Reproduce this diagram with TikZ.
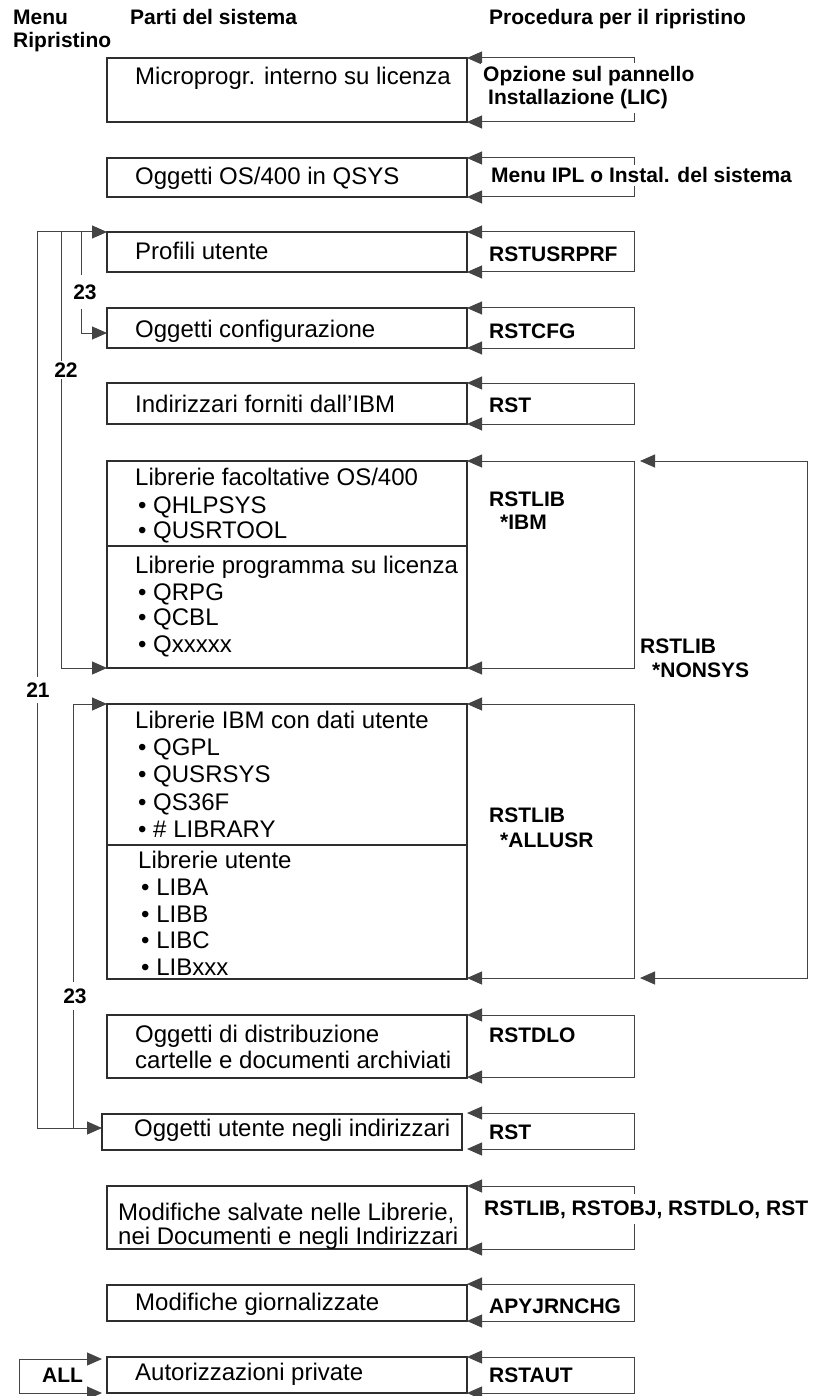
\documentclass[tikz,border=0pt]{standalone}
\usepackage{fontspec}
\setmainfont{Liberation Sans}
\usetikzlibrary{arrows.meta}
\definecolor{ink}{HTML}{2E2E2E}
\definecolor{wirec}{HTML}{444444}

% bracket of a restore procedure: arrows into the part on its left
\newcommand\procbracket[1]{%
  \draw[wire, {Triangle[length=15pt,width=13pt]}-{Triangle[length=15pt,width=13pt]}]
    (#1.north west) -- (#1.north east) -- (#1.south east) -- (#1.south west);}

\begin{document}
\begin{tikzpicture}[x=1pt,y=-1pt,
  part/.style={draw=ink, line width=1.1pt, inner sep=0pt, outer sep=0pt, anchor=north west},
  proc/.style={inner sep=0pt, outer sep=0pt, anchor=north west},
  txt/.style={anchor=base west, inner sep=0pt, font=\fontsize{24}{28}\selectfont},
  cmd/.style={anchor=base west, inner sep=0pt, font=\fontsize{21}{25}\selectfont\bfseries},
  cut/.style={fill=white, inner xsep=2pt, inner ysep=4pt},
  lbl/.style={anchor=center, fill=white, inner xsep=1pt, font=\fontsize{21}{25}\selectfont\bfseries},
  wire/.style={draw=wirec, line width=1pt},
  tip/.style={wire, -{Triangle[length=15pt,width=13pt]}},
]
\useasboundingbox (0,0) rectangle (814,1396);

% column headings
\node[cmd] (hMenu)  at (13,25)  {Menu};
\node[cmd] (hRip)   at (13,48)  {Ripristino};
\node[cmd] (hParti) at (130,25) {Parti del sistema};
\node[cmd] (hProc)  at (489,25) {Procedura per il ripristino};

% parts of the system
\node[part, minimum width=360pt, minimum height=64pt]  (b1)   at (107,58)   {};
\node[part, minimum width=360pt, minimum height=39pt]  (b2)   at (107,158)  {};
\node[part, minimum width=360pt, minimum height=40pt]  (b3)   at (107,232)  {};
\node[part, minimum width=360pt, minimum height=40pt]  (b4)   at (107,308)  {};
\node[part, minimum width=360pt, minimum height=41pt]  (b5)   at (107,383)  {};
\node[part, minimum width=360pt, minimum height=207pt] (lib1) at (107,461)  {};
\node[part, minimum width=360pt, minimum height=275pt] (lib2) at (107,704)  {};
\node[part, minimum width=360pt, minimum height=63pt]  (b8)   at (107,1015) {};
\node[part, minimum width=360pt, minimum height=36pt]  (b9)   at (102,1114) {};
\node[part, minimum width=360pt, minimum height=63pt]  (b10)  at (107,1186) {};
\node[part, minimum width=360pt, minimum height=36pt]  (b11)  at (107,1285) {};
\node[part, minimum width=360pt, minimum height=36pt]  (b12)  at (107,1357) {};

% dividers inside the library boxes
\coordinate (d1) at (0,546);
\coordinate (d2) at (0,845);
\draw[draw=ink, line width=1.1pt] (lib1.west |- d1) -- (lib1.east |- d1);
\draw[draw=ink, line width=1.1pt] (lib2.west |- d2) -- (lib2.east |- d2);

% texts of the parts
\node[txt] (t1) at (135,85)  {Microprogr. interno su licenza};
\node[txt] (t2) at (135,185) {Oggetti OS/400 in QSYS};
\node[txt] (t3) at (135,260) {Profili utente};
\node[txt] (t4) at (135,337) {Oggetti configurazione};
\node[txt] (t5) at (135,412) {Indirizzari forniti dall’IBM};

\node[txt] (l1a) at (135,485) {Librerie facoltative OS/400};
\node[txt] (l1b) at (138,513) {• QHLPSYS};
\node[txt] (l1c) at (138,538) {• QUSRTOOL};
\node[txt] (l1d) at (135,573) {Librerie programma su licenza};
\node[txt] (l1e) at (138,600) {• QRPG};
\node[txt] (l1f) at (138,625) {• QCBL};
\node[txt] (l1g) at (138,652) {• Qxxxxx};

\node[txt] (l2a) at (135,728) {Librerie IBM con dati utente};
\node[txt] (l2b) at (138,755) {• QGPL};
\node[txt] (l2c) at (138,782) {• QUSRSYS};
\node[txt] (l2d) at (138,810) {• QS36F};
\node[txt] (l2e) at (138,837) {• \# LIBRARY};
\node[txt] (l2f) at (138,868) {Librerie utente};
\node[txt] (l2g) at (141,895) {• LIBA};
\node[txt] (l2h) at (141,922) {• LIBB};
\node[txt] (l2i) at (141,948) {• LIBC};
\node[txt] (l2j) at (141,975) {• LIBxxx};

\node[txt] (t8a) at (135,1042) {Oggetti di distribuzione};
\node[txt] (t8b) at (135,1068) {cartelle e documenti archiviati};
\node[txt] (t9)  at (134,1136) {Oggetti utente negli indirizzari};
\node[txt] (t10a) at (118,1220) {Modifiche salvate nelle Librerie,};
\node[txt] (t10b) at (118,1244) {nei Documenti e negli Indirizzari};
\node[txt] (t11) at (135,1310) {Modifiche giornalizzate};
\node[txt] (t12) at (135,1380) {Autorizzazioni private};

% restore procedures (brackets on the right)
\node[proc, minimum width=167pt, minimum height=64pt]  (p1)  at (467,58)   {};
\node[proc, minimum width=167pt, minimum height=39pt]  (p2)  at (467,158)  {};
\node[proc, minimum width=167pt, minimum height=40pt]  (p3)  at (467,232)  {};
\node[proc, minimum width=167pt, minimum height=40pt]  (p4)  at (467,308)  {};
\node[proc, minimum width=167pt, minimum height=41pt]  (p5)  at (467,383)  {};
\node[proc, minimum width=167pt, minimum height=207pt] (p6)  at (467,461)  {};
\node[proc, minimum width=167pt, minimum height=274pt] (p7)  at (467,704)  {};
\node[proc, minimum width=167pt, minimum height=517pt] (pns) at (640,461)  {};
\node[proc, minimum width=167pt, minimum height=62pt]  (p8)  at (467,1015) {};
\node[proc, minimum width=167pt, minimum height=36pt]  (p9)  at (467,1113) {};
\node[proc, minimum width=167pt, minimum height=63pt]  (p10) at (467,1186) {};
\node[proc, minimum width=167pt, minimum height=37pt]  (p11) at (467,1284) {};
\node[proc, minimum width=167pt, minimum height=36pt]  (p12) at (467,1357) {};

\procbracket{p1}
\procbracket{p2}
\procbracket{p3}
\procbracket{p4}
\procbracket{p5}
\procbracket{p6}
\procbracket{p7}
\procbracket{pns}
\procbracket{p8}
\procbracket{p9}
\procbracket{p10}
\procbracket{p11}
\procbracket{p12}

% procedure names
\node[cmd, cut] (c1a) at (481,82)  {Opzione sul pannello};
\node[cmd, cut] (c1b) at (486,105) {Installazione (LIC)};
\node[cmd, cut, inner ysep=3pt] (c2) at (489,183) {Menu IPL o Instal. del sistema};
\node[cmd] (c3)  at (489,262)  {RSTUSRPRF};
\node[cmd] (c4)  at (489,338)  {RSTCFG};
\node[cmd] (c5)  at (489,412)  {RST};
\node[cmd] (c6a) at (489,506)  {RSTLIB};
\node[cmd] (c6b) at (500,529)  {*IBM};
\node[cmd] (cna) at (640,653)  {RSTLIB};
\node[cmd] (cnb) at (652,677)  {*NONSYS};
\node[cmd] (c7a) at (489,822)  {RSTLIB};
\node[cmd] (c7b) at (500,847)  {*ALLUSR};
\node[cmd] (c8)  at (489,1042) {RSTDLO};
\node[cmd] (c9)  at (489,1139) {RST};
\node[cmd, cut, inner ysep=6pt] (c10) at (482,1215) {RSTLIB, RSTOBJ, RSTDLO, RST};
\node[cmd] (c11) at (489,1313) {APYJRNCHG};
\node[cmd] (c12) at (489,1382) {RSTAUT};

% restore menu options (left side)
\coordinate (j21) at (37,232);
\coordinate (j22) at (61,232);
\coordinate (j23) at (81,232);
\coordinate (k21) at (37,1128);
\coordinate (k23) at (73,1128);
\coordinate (m23) at (73,704);
\coordinate (c23) at (81,333);

\draw[wire, {Triangle[length=15pt,width=13pt]}-{Triangle[length=15pt,width=13pt]}]
  (b3.north west) -- (j21) -- (k21) -- (b9.west |- k21);
\draw[tip] (j22) |- (lib1.south west);
\draw[tip] (j23) -- (c23) -- (b4.west |- c23);
\draw[wire] (k23) -- (m23);
\draw[tip] (m23) -- (lib2.north west);

\node[lbl, inner ysep=10pt] (o23a) at (85,292) {23};
\node[lbl, inner ysep=2pt]  (o22)  at (66,370) {22};
\node[lbl, inner ysep=6pt]  (o21)  at (38,690) {21};
\node[lbl, inner ysep=7pt]  (o23b) at (75,996) {23};

% option ALL
\node[proc, minimum width=83pt, minimum height=34pt] (all) at (19,1359) {};
\draw[wire, {Triangle[length=15pt,width=13pt]}-{Triangle[length=15pt,width=13pt]}]
  (all.north east) -- (all.north west) -- (all.south west) -- (all.south east);
\node[cmd] (allt) at (42,1382) {ALL};

\end{tikzpicture}
\end{document}
